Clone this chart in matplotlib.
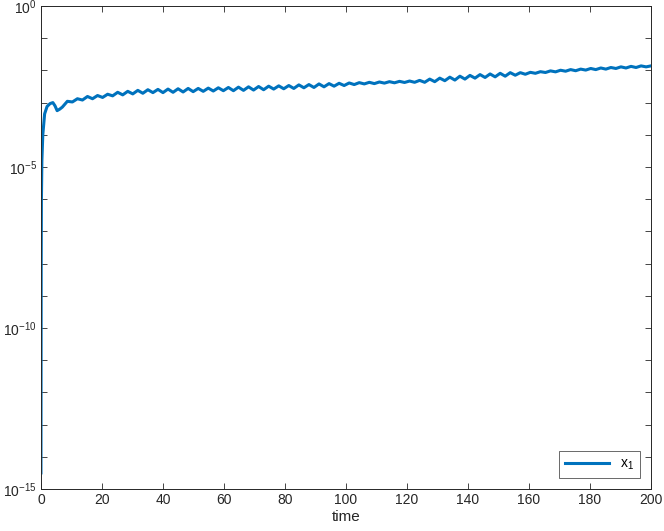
import matplotlib.pyplot as plt
import numpy as np
from matplotlib.ticker import FixedLocator, FuncFormatter

# time samples (start-up transient, then peaks/troughs of the ripple)
time = [0.0, 0.03, 0.08, 0.15, 0.3, 0.6, 1.2, 2.0, 3.0, 3.9, 4.6, 5.3, 6.2,
        7.0, 8.65, 10.3, 11.95, 13.6, 15.25, 16.9, 18.55, 20.2, 21.85,
        23.5, 25.15, 26.8, 28.45, 30.1, 31.75, 33.4, 35.05, 36.7, 38.35,
        40.0, 41.65, 43.3, 44.95, 46.6, 48.25, 49.9, 51.55, 53.2, 54.85,
        56.5, 58.15, 59.8, 61.45, 63.1, 64.75, 66.4, 68.05, 69.7, 71.35,
        73.0, 74.65, 76.3, 77.95, 79.6, 81.25, 82.9, 84.55, 86.2, 87.85,
        89.5, 91.15, 92.8, 94.45, 96.1, 97.75, 99.4, 101.05, 102.7, 104.35,
        106.0, 107.65, 109.3, 110.95, 112.6, 114.25, 115.9, 117.55, 119.2, 120.85,
        122.5, 124.15, 125.8, 127.45, 129.1, 130.75, 132.4, 134.05, 135.7, 137.35,
        139.0, 140.65, 142.3, 143.95, 145.6, 147.25, 148.9, 150.55, 152.2, 153.85,
        155.5, 157.15, 158.8, 160.45, 162.1, 163.75, 165.4, 167.05, 168.7, 170.35,
        172.0, 173.65, 175.3, 176.95, 178.6, 180.25, 181.9, 183.55, 185.2, 186.85,
        188.5, 190.15, 191.8, 193.45, 195.1, 196.75, 198.4, 200.0]

# log10 of x_1 at those times
log_x1 = [-14.5, -11.0, -8.0, -6.0, -4.8, -4.0, -3.35, -3.12, -3.03, -3.0, -3.1, -3.25, -3.2,
          -3.14, -2.96, -2.98, -2.88, -2.92, -2.81, -2.88, -2.78, -2.84, -2.74,
          -2.79, -2.68, -2.76, -2.65, -2.73, -2.62, -2.71, -2.60, -2.69, -2.59,
          -2.69, -2.58, -2.68, -2.57, -2.67, -2.56, -2.66, -2.56, -2.65, -2.55,
          -2.64, -2.54, -2.63, -2.53, -2.63, -2.52, -2.62, -2.51, -2.61, -2.50,
          -2.60, -2.49, -2.58, -2.48, -2.57, -2.47, -2.56, -2.45, -2.54, -2.44,
          -2.53, -2.42, -2.51, -2.41, -2.49, -2.40, -2.47, -2.39, -2.44, -2.38,
          -2.42, -2.37, -2.41, -2.36, -2.395, -2.35, -2.385, -2.34, -2.375, -2.33,
          -2.37, -2.31, -2.37, -2.27, -2.35, -2.24, -2.32, -2.21, -2.30, -2.18,
          -2.27, -2.155, -2.24, -2.13, -2.22, -2.11, -2.20, -2.09, -2.18, -2.07,
          -2.15, -2.07, -2.12, -2.06, -2.09, -2.04, -2.065, -2.015, -2.045, -1.995,
          -2.025, -1.975, -2.01, -1.96, -1.99, -1.94, -1.975, -1.925, -1.96, -1.91,
          -1.94, -1.89, -1.925, -1.875, -1.91, -1.86, -1.89, -1.86]

ytick_exps = list(range(-15, 1))
xtick_vals = [0, 20, 40, 60, 80, 100, 120, 140, 160, 180, 200]

plt.rcParams['font.family'] = ['Liberation Sans', 'DejaVu Sans']
plt.rcParams['mathtext.default'] = 'regular'
axis_col = '#262626'

fig = plt.figure(figsize=(6.64, 5.31), dpi=100)
ax = fig.add_axes([0.0617, 0.0791, 0.9187, 0.9096])

ax.semilogy(time, 10.0 ** np.array(log_x1), color='#0072BD', lw=2.2, label='x$_1$')

ax.set_xlim(0, 200)
ax.set_ylim(1e-15, 1e0)
ax.set_xticks(xtick_vals)
ax.yaxis.set_major_locator(FixedLocator([10.0 ** e for e in ytick_exps]))
ax.yaxis.set_minor_locator(FixedLocator([]))


def ylab(v, pos):
    e = int(round(np.log10(v)))
    return r'$10^{%d}$' % e if e % 5 == 0 else ''


ax.yaxis.set_major_formatter(FuncFormatter(ylab))
ax.tick_params(direction='in', length=4, width=0.6, colors=axis_col,
               labelsize=10, top=True, right=True, pad=3)
for s in ax.spines.values():
    s.set_color(axis_col)
    s.set_linewidth(0.7)

ax.set_xlabel('time', fontsize=11, color=axis_col, labelpad=2)

leg = ax.legend(loc='lower right', fancybox=False, edgecolor=axis_col,
                fontsize=10, handlelength=3.2, borderaxespad=0.8)
leg.get_frame().set_linewidth(0.6)

fig.savefig('out.png', dpi=100)
